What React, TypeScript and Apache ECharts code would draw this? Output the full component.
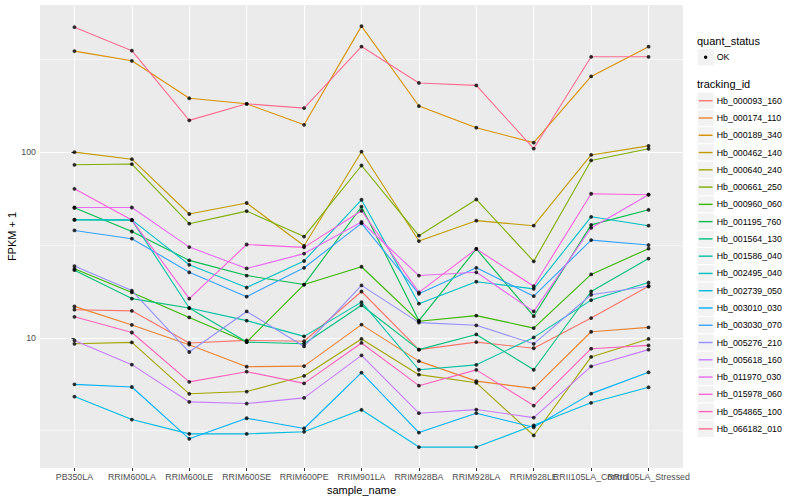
import React, { useEffect, useRef } from "react";
import * as echarts from "echarts";

const categories = [
  "PB350LA",
  "RRIM600LA",
  "RRIM600LE",
  "RRIM600SE",
  "RRIM600PE",
  "RRIM901LA",
  "RRIM928BA",
  "RRIM928LA",
  "RRIM928LE",
  "RRII105LA_Control",
  "RRII105LA_Stressed",
];

const trackingIds = [
  "Hb_000093_160",
  "Hb_000174_110",
  "Hb_000189_340",
  "Hb_000462_140",
  "Hb_000640_240",
  "Hb_000661_250",
  "Hb_000960_060",
  "Hb_001195_760",
  "Hb_001564_130",
  "Hb_001586_040",
  "Hb_002495_040",
  "Hb_002739_050",
  "Hb_003010_030",
  "Hb_003030_070",
  "Hb_005276_210",
  "Hb_005618_160",
  "Hb_011970_030",
  "Hb_015978_060",
  "Hb_054865_100",
  "Hb_066182_010",
];

// FPKM + 1 per sample, in category order
const hb_000093_160 = [14.2, 14.0, 9.4, 9.7, 9.6, 17.8, 8.65, 9.5, 8.8, 12.8, 19.0];
const hb_000174_110 = [14.8, 11.75, 9.2, 7.0, 7.05, 11.8, 7.5, 5.85, 5.35, 10.8, 11.4];
const hb_000189_340 = [352, 312, 196, 183, 141, 480, 178, 136, 113, 257, 372];
const hb_000462_140 = [100.4, 92, 46.6, 53.4, 31.4, 101, 33.3, 42.9, 40.3, 97, 108.6];
const hb_000640_240 = [9.3, 9.47, 5.0, 5.14, 6.24, 9.88, 6.34, 5.73, 2.98, 7.9, 9.88];
const hb_000661_250 = [85.8, 86.6, 41.3, 48.3, 35.2, 85.1, 35.6, 55.8, 25.9, 90.6, 104.7];
const hb_000960_060 = [23.6, 17.6, 12.9, 9.5, 19.4, 24.2, 12.3, 13.2, 11.3, 22.0, 30.3];
const hb_001195_760 = [50.3, 37.5, 26.2, 21.7, 19.4, 51.0, 12.4, 30.2, 13.1, 40.7, 49.1];
const hb_001564_130 = [23.2, 16.3, 14.5, 9.5, 9.3, 15.0, 8.65, 10.45, 6.74, 17.8, 26.8];
const hb_001586_040 = [43.3, 43.2, 14.5, 12.4, 10.2, 15.6, 6.74, 7.16, 10.07, 16.0, 19.9];
const hb_002495_040 = [43.4, 43.3, 24.8, 18.7, 26.0, 55.6, 15.3, 20.1, 18.4, 45.0, 40.3];
const hb_002739_050 = [4.83, 3.63, 3.04, 3.04, 3.12, 4.1, 2.58, 2.58, 3.38, 4.47, 5.42];
const hb_003010_030 = [5.62, 5.44, 2.86, 3.69, 3.25, 6.5, 3.09, 3.93, 3.3, 5.01, 6.53];
const hb_003030_070 = [38.0, 34.3, 22.6, 16.7, 23.9, 41.5, 17.3, 23.9, 16.8, 33.7, 31.7];
const hb_005276_210 = [24.4, 18.0, 8.4, 13.9, 9.0, 19.2, 12.1, 11.7, 9.3, 17.1, 19.0];
const hb_005618_160 = [9.7, 7.18, 4.52, 4.43, 4.75, 8.06, 3.93, 4.11, 3.72, 7.03, 8.65];
const hb_011970_030 = [50.5, 50.5, 30.9, 23.7, 28.5, 42.2, 21.7, 22.6, 13.9, 39.2, 59.2];
const hb_015978_060 = [63.7, 43.2, 16.3, 31.9, 30.8, 48.5, 17.6, 30.2, 19.0, 59.9, 59.2];
const hb_054865_100 = [13.0, 10.7, 5.8, 6.58, 5.69, 9.4, 5.53, 6.73, 4.32, 8.75, 9.12];
const hb_066182_010 = [474, 354, 149, 183, 173.5, 372.5, 237, 230, 105, 328, 328];

const seriesValues = [
  hb_000093_160,
  hb_000174_110,
  hb_000189_340,
  hb_000462_140,
  hb_000640_240,
  hb_000661_250,
  hb_000960_060,
  hb_001195_760,
  hb_001564_130,
  hb_001586_040,
  hb_002495_040,
  hb_002739_050,
  hb_003010_030,
  hb_003030_070,
  hb_005276_210,
  hb_005618_160,
  hb_011970_030,
  hb_015978_060,
  hb_054865_100,
  hb_066182_010,
];

const quantStatus = ["OK"];

const yMajorTicks = [10, 100];
const yMinorTicks = [3.1623, 31.623, 316.23];

// ggplot2 default hue palette for 20 levels
const palette = [
  "#F8766D", "#EA8331", "#D89000", "#C09B00", "#A3A500",
  "#7CAE00", "#39B600", "#00BB4E", "#00BF7D", "#00C1A3",
  "#00BFC4", "#00BAE0", "#00B0F6", "#35A2FF", "#9590FF",
  "#C77CFF", "#E76BF3", "#FA62DB", "#FF62BC", "#FF6C91",
];

const FONT = "'Liberation Sans', Arial, Helvetica, sans-serif";

function buildLegend(): any[] {
  const els: any[] = [];
  const lx = 697;
  const key = 17.27;
  els.push({
    type: "text",
    x: lx,
    y: 41,
    silent: true,
    style: { text: "quant_status", fill: "#000000", fontSize: 11, fontFamily: FONT, align: "left", verticalAlign: "middle" },
  });
  quantStatus.forEach((q, i) => {
    const y0 = 48.6 + i * key;
    els.push({ type: "rect", silent: true, shape: { x: lx, y: y0, width: key, height: key }, style: { fill: "#F2F2F2", stroke: "#FFFFFF", lineWidth: 1 } });
    els.push({ type: "circle", silent: true, shape: { cx: lx + key / 2, cy: y0 + key / 2, r: 1.7 }, style: { fill: "#000000" } });
    els.push({
      type: "text", silent: true, x: lx + key + 2.5, y: y0 + key / 2,
      style: { text: q, fill: "#000000", fontSize: 8.8, fontFamily: FONT, align: "left", verticalAlign: "middle" },
    });
  });
  els.push({
    type: "text",
    x: lx,
    y: 84,
    silent: true,
    style: { text: "tracking_id", fill: "#000000", fontSize: 11, fontFamily: FONT, align: "left", verticalAlign: "middle" },
  });
  trackingIds.forEach((name, i) => {
    const y0 = 92.1 + i * key;
    const cy = y0 + key / 2;
    els.push({ type: "rect", silent: true, shape: { x: lx, y: y0, width: key, height: key }, style: { fill: "#F2F2F2", stroke: "#FFFFFF", lineWidth: 1 } });
    els.push({ type: "line", silent: true, shape: { x1: lx + 1.7, y1: cy, x2: lx + key - 1.7, y2: cy }, style: { stroke: palette[i], lineWidth: 1.4 } });
    els.push({
      type: "text", silent: true, x: lx + key + 2.5, y: cy,
      style: { text: name, fill: "#000000", fontSize: 8.8, fontFamily: FONT, align: "left", verticalAlign: "middle" },
    });
  });
  return els;
}

export default function App() {
  const ref = useRef<HTMLDivElement>(null);

  useEffect(() => {
    if (!ref.current) return;
    const chart = echarts.init(ref.current, null, { renderer: "svg" });
    const idx = categories.map((_, i) => i);
    const n = categories.length;

    const labelStyle = {
      formatter: (v: number) => categories[Math.round(v)] ?? "",
      color: "#4D4D4D",
      fontSize: 8.8,
      fontFamily: FONT,
      margin: 4,
      hideOverlap: false,
      showMinLabel: true,
      showMaxLabel: true,
    };

    // The last two sample names overlap (as in the reference); split labels over
    // three identical axes so ECharts' min/max overlap logic hides none of them.
    const labelOnlyAxis = (vals: number[]) => ({
      type: "value",
      min: -0.6,
      max: 10.6,
      position: "bottom",
      offset: 0,
      axisLine: { show: false },
      axisTick: { show: false, customValues: vals },
      splitLine: { show: false },
      axisLabel: { ...labelStyle, customValues: vals },
    });

    const lineSeries = seriesValues.map((vals, k) => ({
      name: trackingIds[k],
      type: "line",
      xAxisIndex: 0,
      yAxisIndex: 0,
      data: vals.map((v, i) => [i, v]),
      showSymbol: false,
      symbol: "none",
      silent: true,
      z: 2,
      lineStyle: { color: palette[k], width: 1.1 },
      emphasis: { disabled: true },
    }));

    const points: number[][] = [];
    seriesValues.forEach((vals) => vals.forEach((v, i) => points.push([i, v])));

    const option: any = {
      animation: false,
      textStyle: { fontFamily: FONT },
      grid: {
        left: 40,
        right: 117,
        top: 5,
        bottom: 32,
        show: true,
        backgroundColor: "#EBEBEB",
        borderWidth: 0,
        containLabel: false,
        outerBoundsMode: "none",
      },
      xAxis: [
        {
          type: "value",
          min: -0.6,
          max: 10.6,
          position: "bottom",
          axisLine: { show: false },
          axisTick: { show: true, length: 3, lineStyle: { color: "#333333", width: 1 }, customValues: idx },
          axisLabel: { ...labelStyle, customValues: idx.slice(0, n - 2) },
          splitLine: { show: true, lineStyle: { color: "#FFFFFF", width: 1.07 } },
        },
        labelOnlyAxis(idx.slice(n - 2, n - 1)),
        labelOnlyAxis(idx.slice(n - 1)),
      ],
      yAxis: [
        {
          type: "log",
          logBase: 10,
          min: 1.99,
          max: 624,
          axisLine: { show: false },
          axisTick: { show: true, length: 3, lineStyle: { color: "#333333", width: 1 }, customValues: yMajorTicks },
          axisLabel: {
            customValues: yMajorTicks,
            formatter: (v: number) => String(Math.round(v)),
            color: "#4D4D4D",
            fontSize: 8.8,
            fontFamily: FONT,
            margin: 4,
            showMinLabel: true,
            showMaxLabel: true,
          },
          splitLine: { show: true, lineStyle: { color: "#FFFFFF", width: 1.07 } },
        },
        {
          type: "log",
          logBase: 10,
          min: 1.99,
          max: 624,
          position: "left",
          axisLine: { show: false },
          axisTick: { show: false, customValues: yMinorTicks },
          axisLabel: { show: false, customValues: yMinorTicks },
          splitLine: { show: true, lineStyle: { color: "#FFFFFF", width: 0.53 } },
        },
      ],
      series: [
        ...lineSeries,
        {
          name: quantStatus[0],
          type: "scatter",
          xAxisIndex: 0,
          yAxisIndex: 0,
          data: points,
          symbol: "circle",
          symbolSize: 3.8,
          silent: true,
          z: 3,
          itemStyle: { color: "#000000" },
          emphasis: { disabled: true },
        },
      ],
      graphic: [
        {
          type: "text",
          x: 361.5,
          y: 490,
          silent: true,
          style: { text: "sample_name", fill: "#000000", fontSize: 11, fontFamily: FONT, align: "center", verticalAlign: "middle" },
        },
        {
          type: "text",
          x: 12,
          y: 236.5,
          rotation: Math.PI / 2,
          silent: true,
          style: { text: "FPKM + 1", fill: "#000000", fontSize: 11, fontFamily: FONT, align: "center", verticalAlign: "middle" },
        },
        ...buildLegend(),
      ],
    };

    chart.setOption(option);
    return () => chart.dispose();
  }, []);

  return (
    <div
      ref={ref}
      style={{ position: "absolute", left: 0, top: 0, width: 800, height: 500, background: "#FFFFFF" }}
    />
  );
}
